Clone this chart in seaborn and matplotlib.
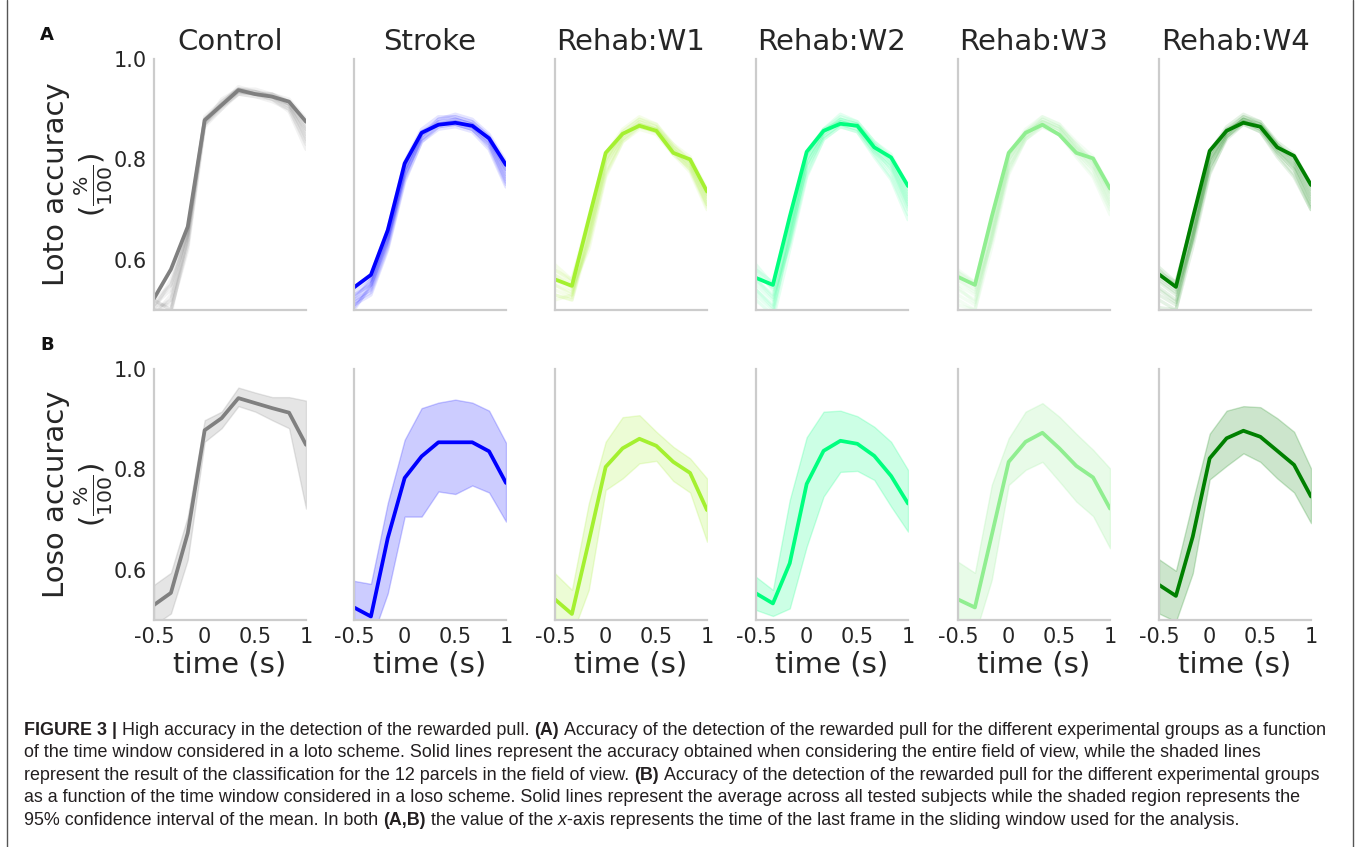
import numpy as np
import pandas as pd
import matplotlib
matplotlib.use("Agg")
import matplotlib.pyplot as plt
from matplotlib.lines import Line2D
import seaborn as sns

# ---------------- data ----------------
time_s = [-0.5, -0.333, -0.167, 0.0, 0.167, 0.333, 0.5, 0.667, 0.833, 1.0]
groups = ["Control", "Stroke", "Rehab:W1", "Rehab:W2", "Rehab:W3", "Rehab:W4"]
group_colors = ["grey", "blue", "#a4f030", "springgreen", "lightgreen", "green"]
x_ticks = [-0.5, 0, 0.5, 1]
x_tick_labels = ["-0.5", "0", "0.5", "1"]
y_ticks = [0.6, 0.8, 1.0]
y_tick_labels = ["0.6", "0.8", "1.0"]

# loto (A): whole field of view
loto_control = [0.523, 0.581, 0.666, 0.878, 0.908, 0.938, 0.930, 0.925, 0.915, 0.875]
loto_stroke = [0.545, 0.570, 0.659, 0.792, 0.853, 0.869, 0.873, 0.867, 0.842, 0.789]
loto_w1 = [0.561, 0.548, 0.681, 0.813, 0.851, 0.867, 0.857, 0.813, 0.800, 0.736]
loto_w2 = [0.564, 0.550, 0.686, 0.815, 0.857, 0.871, 0.867, 0.824, 0.804, 0.747]
loto_w3 = [0.566, 0.550, 0.686, 0.813, 0.853, 0.869, 0.849, 0.813, 0.802, 0.742]
loto_w4 = [0.571, 0.546, 0.683, 0.817, 0.857, 0.873, 0.865, 0.824, 0.807, 0.749]

# loto (A): 12 parcels per group
parcels_control = [
    [0.51, 0.55, 0.65, 0.87, 0.91, 0.94, 0.93, 0.92, 0.91, 0.86],
    [0.50, 0.52, 0.64, 0.88, 0.91, 0.935, 0.93, 0.925, 0.905, 0.85],
    [0.52, 0.50, 0.63, 0.87, 0.90, 0.93, 0.935, 0.93, 0.91, 0.84],
    [0.50, 0.49, 0.65, 0.885, 0.915, 0.94, 0.94, 0.93, 0.915, 0.87],
    [0.49, 0.53, 0.66, 0.875, 0.905, 0.93, 0.925, 0.92, 0.90, 0.83],
    [0.51, 0.51, 0.64, 0.88, 0.91, 0.945, 0.935, 0.925, 0.91, 0.855],
    [0.50, 0.56, 0.66, 0.87, 0.92, 0.94, 0.93, 0.93, 0.92, 0.88],
    [0.52, 0.50, 0.62, 0.865, 0.90, 0.935, 0.93, 0.92, 0.895, 0.82],
    [0.49, 0.52, 0.65, 0.88, 0.915, 0.94, 0.935, 0.925, 0.905, 0.845],
    [0.51, 0.54, 0.66, 0.875, 0.91, 0.935, 0.93, 0.93, 0.915, 0.865],
    [0.50, 0.50, 0.63, 0.87, 0.905, 0.93, 0.925, 0.915, 0.90, 0.835],
    [0.52, 0.55, 0.655, 0.88, 0.91, 0.94, 0.935, 0.925, 0.91, 0.86],
]
parcels_stroke = [
    [0.53, 0.56, 0.65, 0.78, 0.85, 0.87, 0.875, 0.865, 0.835, 0.77],
    [0.51, 0.55, 0.64, 0.77, 0.84, 0.865, 0.87, 0.86, 0.83, 0.76],
    [0.52, 0.54, 0.63, 0.765, 0.845, 0.875, 0.88, 0.87, 0.84, 0.78],
    [0.50, 0.55, 0.645, 0.78, 0.85, 0.88, 0.885, 0.875, 0.845, 0.79],
    [0.54, 0.565, 0.655, 0.79, 0.855, 0.87, 0.87, 0.86, 0.825, 0.75],
    [0.515, 0.535, 0.625, 0.76, 0.835, 0.86, 0.865, 0.855, 0.82, 0.745],
    [0.505, 0.545, 0.64, 0.775, 0.845, 0.88, 0.89, 0.88, 0.85, 0.795],
    [0.53, 0.55, 0.635, 0.77, 0.84, 0.87, 0.875, 0.865, 0.835, 0.765],
    [0.52, 0.56, 0.65, 0.785, 0.855, 0.875, 0.88, 0.87, 0.84, 0.775],
    [0.545, 0.57, 0.66, 0.795, 0.86, 0.885, 0.885, 0.875, 0.845, 0.785],
    [0.51, 0.53, 0.62, 0.755, 0.835, 0.865, 0.87, 0.86, 0.83, 0.755],
    [0.525, 0.555, 0.645, 0.78, 0.85, 0.87, 0.88, 0.87, 0.84, 0.78],
]
parcels_w1 = [
    [0.57, 0.55, 0.66, 0.80, 0.85, 0.87, 0.86, 0.82, 0.79, 0.72],
    [0.55, 0.53, 0.64, 0.79, 0.845, 0.875, 0.865, 0.83, 0.795, 0.73],
    [0.59, 0.56, 0.67, 0.805, 0.855, 0.88, 0.87, 0.825, 0.80, 0.735],
    [0.53, 0.52, 0.65, 0.78, 0.84, 0.865, 0.855, 0.815, 0.78, 0.71],
    [0.56, 0.54, 0.63, 0.77, 0.835, 0.86, 0.85, 0.81, 0.775, 0.70],
    [0.58, 0.555, 0.675, 0.81, 0.86, 0.885, 0.87, 0.83, 0.805, 0.74],
    [0.54, 0.525, 0.645, 0.79, 0.85, 0.875, 0.86, 0.82, 0.785, 0.715],
    [0.52, 0.53, 0.66, 0.795, 0.845, 0.87, 0.86, 0.82, 0.79, 0.725],
    [0.57, 0.545, 0.62, 0.765, 0.835, 0.865, 0.855, 0.815, 0.78, 0.705],
    [0.55, 0.535, 0.655, 0.80, 0.855, 0.88, 0.865, 0.825, 0.795, 0.73],
    [0.58, 0.56, 0.685, 0.81, 0.85, 0.87, 0.86, 0.815, 0.795, 0.725],
    [0.53, 0.52, 0.635, 0.775, 0.84, 0.87, 0.855, 0.81, 0.785, 0.71],
]
parcels_w2 = [
    [0.58, 0.54, 0.66, 0.80, 0.855, 0.875, 0.865, 0.82, 0.79, 0.72],
    [0.55, 0.52, 0.64, 0.79, 0.85, 0.88, 0.87, 0.83, 0.80, 0.73],
    [0.59, 0.55, 0.67, 0.81, 0.86, 0.885, 0.875, 0.835, 0.805, 0.74],
    [0.53, 0.50, 0.65, 0.785, 0.845, 0.87, 0.86, 0.815, 0.775, 0.70],
    [0.56, 0.53, 0.63, 0.77, 0.84, 0.865, 0.855, 0.81, 0.765, 0.69],
    [0.57, 0.545, 0.675, 0.81, 0.86, 0.89, 0.875, 0.835, 0.81, 0.745],
    [0.52, 0.49, 0.645, 0.79, 0.85, 0.875, 0.865, 0.82, 0.78, 0.705],
    [0.54, 0.51, 0.66, 0.80, 0.855, 0.88, 0.87, 0.825, 0.79, 0.715],
    [0.50, 0.48, 0.62, 0.765, 0.84, 0.865, 0.855, 0.805, 0.76, 0.68],
    [0.56, 0.525, 0.655, 0.80, 0.855, 0.88, 0.87, 0.83, 0.795, 0.725],
    [0.58, 0.555, 0.68, 0.815, 0.86, 0.875, 0.865, 0.825, 0.80, 0.735],
    [0.54, 0.505, 0.635, 0.78, 0.845, 0.87, 0.86, 0.815, 0.785, 0.71],
]
parcels_w3 = [
    [0.57, 0.545, 0.665, 0.80, 0.85, 0.875, 0.86, 0.82, 0.79, 0.725],
    [0.55, 0.53, 0.645, 0.79, 0.845, 0.88, 0.865, 0.83, 0.795, 0.735],
    [0.58, 0.555, 0.675, 0.805, 0.855, 0.885, 0.87, 0.825, 0.80, 0.74],
    [0.53, 0.51, 0.65, 0.785, 0.84, 0.87, 0.855, 0.815, 0.78, 0.71],
    [0.56, 0.535, 0.635, 0.775, 0.84, 0.865, 0.85, 0.81, 0.77, 0.70],
    [0.575, 0.55, 0.68, 0.81, 0.86, 0.885, 0.87, 0.835, 0.805, 0.745],
    [0.52, 0.50, 0.645, 0.79, 0.85, 0.875, 0.86, 0.82, 0.785, 0.715],
    [0.54, 0.52, 0.66, 0.80, 0.85, 0.875, 0.865, 0.825, 0.79, 0.72],
    [0.51, 0.50, 0.625, 0.77, 0.84, 0.865, 0.85, 0.805, 0.765, 0.69],
    [0.56, 0.54, 0.655, 0.80, 0.855, 0.88, 0.865, 0.83, 0.795, 0.73],
    [0.575, 0.555, 0.68, 0.81, 0.855, 0.875, 0.86, 0.82, 0.80, 0.735],
    [0.545, 0.515, 0.64, 0.78, 0.845, 0.87, 0.855, 0.815, 0.78, 0.705],
]
parcels_w4 = [
    [0.58, 0.545, 0.665, 0.80, 0.855, 0.88, 0.865, 0.82, 0.79, 0.725],
    [0.555, 0.53, 0.645, 0.79, 0.85, 0.88, 0.87, 0.83, 0.80, 0.735],
    [0.585, 0.555, 0.675, 0.81, 0.86, 0.885, 0.875, 0.83, 0.805, 0.745],
    [0.53, 0.51, 0.65, 0.785, 0.845, 0.875, 0.86, 0.815, 0.78, 0.71],
    [0.56, 0.535, 0.635, 0.775, 0.84, 0.87, 0.855, 0.81, 0.77, 0.70],
    [0.57, 0.55, 0.68, 0.815, 0.865, 0.89, 0.875, 0.835, 0.81, 0.75],
    [0.52, 0.50, 0.645, 0.795, 0.85, 0.88, 0.865, 0.82, 0.785, 0.715],
    [0.545, 0.52, 0.66, 0.80, 0.855, 0.88, 0.87, 0.825, 0.79, 0.72],
    [0.505, 0.50, 0.625, 0.77, 0.845, 0.87, 0.855, 0.805, 0.765, 0.70],
    [0.565, 0.54, 0.655, 0.80, 0.855, 0.885, 0.87, 0.83, 0.795, 0.73],
    [0.575, 0.555, 0.68, 0.81, 0.86, 0.875, 0.865, 0.825, 0.80, 0.74],
    [0.54, 0.515, 0.64, 0.785, 0.845, 0.875, 0.86, 0.815, 0.78, 0.705],
]

# loso (B): mean and 95% CI
loso_control = [0.530, 0.554, 0.673, 0.878, 0.902, 0.942, 0.932, 0.922, 0.913, 0.849]
loso_control_hi = [0.570, 0.594, 0.706, 0.898, 0.915, 0.963, 0.953, 0.944, 0.944, 0.937]
loso_control_lo = [0.490, 0.513, 0.620, 0.855, 0.882, 0.926, 0.915, 0.898, 0.882, 0.722]
loso_stroke = [0.525, 0.507, 0.663, 0.783, 0.826, 0.854, 0.854, 0.854, 0.836, 0.773]
loso_stroke_hi = [0.578, 0.572, 0.733, 0.859, 0.922, 0.933, 0.939, 0.933, 0.917, 0.853]
loso_stroke_lo = [0.460, 0.458, 0.553, 0.706, 0.706, 0.756, 0.751, 0.768, 0.754, 0.696]
loso_w1 = [0.541, 0.512, 0.656, 0.805, 0.842, 0.861, 0.847, 0.815, 0.793, 0.719]
loso_w1_hi = [0.593, 0.560, 0.732, 0.855, 0.904, 0.908, 0.875, 0.845, 0.822, 0.782]
loso_w1_lo = [0.490, 0.470, 0.560, 0.759, 0.782, 0.812, 0.817, 0.777, 0.754, 0.656]
loso_w2 = [0.553, 0.533, 0.613, 0.771, 0.837, 0.857, 0.851, 0.827, 0.787, 0.732]
loso_w2_hi = [0.586, 0.560, 0.739, 0.864, 0.915, 0.917, 0.906, 0.885, 0.855, 0.799]
loso_w2_lo = [0.520, 0.508, 0.523, 0.646, 0.746, 0.795, 0.797, 0.779, 0.726, 0.676]
loso_w3 = [0.541, 0.525, 0.669, 0.815, 0.855, 0.873, 0.842, 0.807, 0.784, 0.722]
loso_w3_hi = [0.616, 0.594, 0.769, 0.862, 0.915, 0.932, 0.905, 0.871, 0.839, 0.802]
loso_w3_lo = [0.493, 0.470, 0.580, 0.769, 0.799, 0.815, 0.776, 0.736, 0.707, 0.643]
loso_w4 = [0.570, 0.548, 0.666, 0.822, 0.862, 0.877, 0.865, 0.837, 0.809, 0.746]
loso_w4_hi = [0.621, 0.598, 0.736, 0.871, 0.917, 0.926, 0.924, 0.902, 0.875, 0.802]
loso_w4_lo = [0.513, 0.497, 0.593, 0.780, 0.807, 0.832, 0.815, 0.782, 0.754, 0.693]

loto_means = [loto_control, loto_stroke, loto_w1, loto_w2, loto_w3, loto_w4]
loto_parcels = [parcels_control, parcels_stroke, parcels_w1, parcels_w2, parcels_w3, parcels_w4]
loso_means = [loso_control, loso_stroke, loso_w1, loso_w2, loso_w3, loso_w4]
loso_hi = [loso_control_hi, loso_stroke_hi, loso_w1_hi, loso_w2_hi, loso_w3_hi, loso_w4_hi]
loso_lo = [loso_control_lo, loso_stroke_lo, loso_w1_lo, loso_w2_lo, loso_w3_lo, loso_w4_lo]

# ---------------- figure ----------------
sns.set_theme(style="white")
plt.rcParams["font.family"] = ["DejaVu Sans"]
W, H = 1357, 847
fig = plt.figure(figsize=(W / 100, H / 100), dpi=100)
TXT = "#262626"
SPINE = "#cccccc"

col_left = [154, 354, 555, 756, 958, 1159]
ax_w = 152
rows = [(59, 310), (369, 620)]


def px_rect(left, top, bottom):
    return [left / W, 1 - bottom / H, ax_w / W, (bottom - top) / H]


for i, g in enumerate(groups):
    c = group_colors[i]
    for r, (top, bot) in enumerate(rows):
        ax = fig.add_axes(px_rect(col_left[i], top, bot))
        if r == 0:
            recs = []
            for p, vals in enumerate(loto_parcels[i]):
                for t, v in zip(time_s, vals):
                    recs.append({"time": t, "acc": v, "parcel": p})
            dfp = pd.DataFrame(recs)
            sns.lineplot(data=dfp, x="time", y="acc", units="parcel", estimator=None,
                         color=c, alpha=0.1, lw=2.4, ax=ax, legend=False)
            sns.lineplot(x=time_s, y=loto_means[i], color=c, lw=2.7, ax=ax)
            ax.set_title(g, fontsize=21, color=TXT, pad=6.5)
        else:
            ax.fill_between(time_s, loso_lo[i], loso_hi[i], color=c, alpha=0.2, lw=1)
            sns.lineplot(x=time_s, y=loso_means[i], color=c, lw=2.7, ax=ax)
        ax.set_xlim(-0.5, 1.0)
        ax.set_ylim(0.5, 1.0)
        for s in ["top", "right"]:
            ax.spines[s].set_visible(False)
        for s in ["left", "bottom"]:
            ax.spines[s].set_color(SPINE)
            ax.spines[s].set_linewidth(1.6)
        ax.tick_params(length=0, labelsize=15, colors=TXT, pad=5)
        ax.set_yticks(y_ticks)
        if i == 0:
            ax.set_yticklabels(y_tick_labels)
            lab = "Loto accuracy" if r == 0 else "Loso accuracy"
            ax.set_ylabel(lab, fontsize=21, color=TXT)
            ax.yaxis.set_label_coords(-0.55, 0.5)
            ax.text(-0.395, 0.5, r"$(\frac{\%}{100})$", transform=ax.transAxes, rotation=90,
                    ha="center", va="center", fontsize=21, color=TXT)
        else:
            ax.set_yticklabels([])
            ax.set_ylabel("")
        if r == 1:
            ax.set_xticks(x_ticks)
            ax.set_xticklabels(x_tick_labels)
            ax.set_xlabel("time (s)", fontsize=21, color=TXT)
            ax.xaxis.set_label_coords(0.5, -0.122)
        else:
            ax.set_xticks([])
            ax.set_xlabel("")

fig.text(47 / W, 1 - 35 / H, "A", fontsize=13, weight="bold", ha="center", va="center", color="#111111")
fig.text(47 / W, 1 - 345 / H, "B", fontsize=13, weight="bold", ha="center", va="center", color="#111111")

# frame lines
for xpx in (7, 1353):
    fig.add_artist(Line2D([xpx / W, xpx / W], [0, 1], transform=fig.transFigure,
                          color="#555555", lw=1.0))

# ---------------- caption ----------------
cap_lines = [
    [("FIGURE 3 |", "bold", True), ("High accuracy in the detection of the rewarded pull.", "normal", True),
     ("(A)", "bold", True),
     ("Accuracy of the detection of the rewarded pull for the different experimental groups as a function", "normal", False)],
    [("of the time window considered in a loto scheme. Solid lines represent the accuracy obtained when considering the entire field of view, while the shaded lines", "normal", False)],
    [("represent the result of the classification for the 12 parcels in the field of view.", "normal", True),
     ("(B)", "bold", True),
     ("Accuracy of the detection of the rewarded pull for the different experimental groups", "normal", False)],
    [("as a function of the time window considered in a loso scheme. Solid lines represent the average across all tested subjects while the shaded region represents the", "normal", False)],
    [("95% confidence interval of the mean. In both", "normal", True), ("(A,B)", "bold", True),
     ("the value of the", "normal", True), ("x", "italic", False),
     ("-axis represents the time of the last frame in the sliding window used for the analysis.", "normal", False)],
]
cap_y = [735, 757, 780, 802, 825]
cap_family = ["Liberation Sans Narrow", "Liberation Sans", "DejaVu Sans"]
renderer = fig.canvas.get_renderer()


def draw_caption(fs):
    arts = []
    widths = []
    sp = fig.text(0, 0, "a a", fontsize=fs, family=cap_family)
    sp2 = fig.text(0, 0, "aa", fontsize=fs, family=cap_family)
    space_w = sp.get_window_extent(renderer).width - sp2.get_window_extent(renderer).width
    sp.remove()
    sp2.remove()
    for line, yp in zip(cap_lines, cap_y):
        x = 24.0
        for text, sty, space in line:
            kw = dict(fontsize=fs, family=cap_family, color="#231f20", va="baseline", ha="left")
            if sty == "bold":
                kw["weight"] = "bold"
            if sty == "italic":
                kw["style"] = "italic"
            t = fig.text(x / W, 1 - yp / H, text, **kw)
            arts.append(t)
            x += t.get_window_extent(renderer).width
            if space:
                x += space_w
        widths.append(x - 24.0)
    return arts, widths


arts, widths = draw_caption(10)
for a in arts:
    a.remove()
fs_fit = 10 * (1331 - 24) / widths[0]
draw_caption(fs_fit)

fig.savefig("out.png", dpi=100)
